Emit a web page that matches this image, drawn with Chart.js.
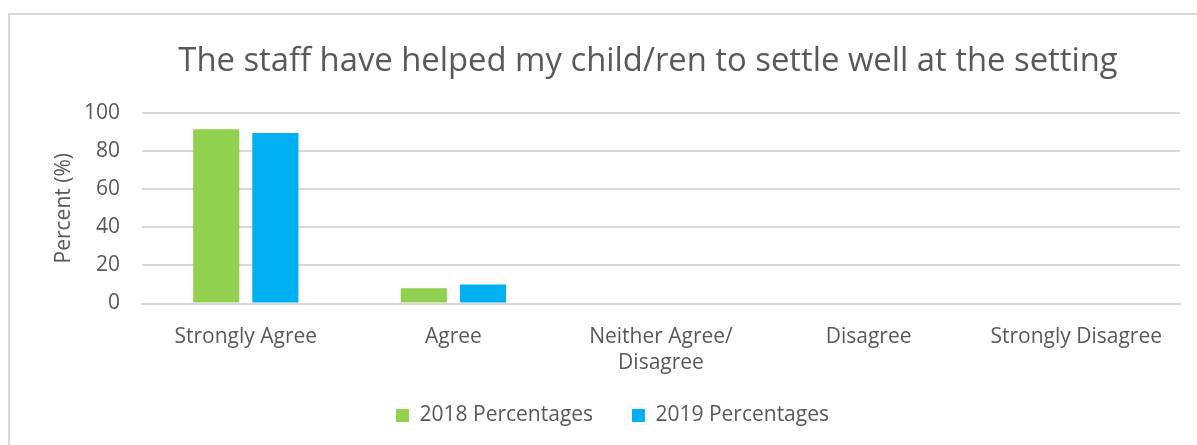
<!DOCTYPE html>
<html>
<head>
<meta charset="utf-8">
<script src="https://cdn.jsdelivr.net/npm/chart.js@4.4.1/dist/chart.umd.min.js"></script>
<style>
    html, body { margin: 0; padding: 0; background: #ffffff; }
    #frame {
        position: absolute; left: 8px; top: 13px; width: 1300px; height: 500px;
        border-top: 2px solid #d9d9d9; border-left: 2px solid #d9d9d9;
    }
    #wrap { position: absolute; left: 0; top: 0; width: 1197px; height: 445px; }
</style>
</head>
<body>
<div id="frame"></div>
<div id="wrap"><canvas id="chart"></canvas></div>
<script>
const TITLE = "The staff have helped my child/ren to settle well at the setting";
const categories = ["Strongly Agree", "Agree", ["Neither Agree/", "Disagree"], "Disagree", "Strongly Disagree"];
const seriesNames = ["2018 Percentages", "2019 Percentages"];
const series2018 = [91.5, 8, 0, 0, 0];
const series2019 = [89.5, 10, 0, 0, 0];
const yTicks = [0, 20, 40, 60, 80, 100];

const FONT = "'Open Sans', 'Liberation Sans', sans-serif";
const TEXT = "#595959";
const GRID = "#d9d9d9";

// ===== TITLE (drawn by hand so it can sit off-centre like the original) =====
const titlePlugin = {
    id: "titleText",
    afterDraw(chart) {
        const ctx = chart.ctx;
        ctx.save();
        ctx.font = "32.8px " + FONT;
        ctx.fillStyle = TEXT;
        ctx.textAlign = "center";
        ctx.textBaseline = "middle";
        ctx.fillText(TITLE, 648, 62);
        ctx.restore();
    }
};

new Chart(document.getElementById("chart"), {
    type: "bar",
    data: {
        labels: categories,
        datasets: [
            {
                label: seriesNames[0],
                data: series2018,
                backgroundColor: "#92d050",
                categoryPercentage: 0.57,
                barPercentage: 0.78
            },
            {
                label: seriesNames[1],
                data: series2019,
                backgroundColor: "#00b0f0",
                categoryPercentage: 0.57,
                barPercentage: 0.78
            }
        ]
    },
    options: {
        responsive: true,
        maintainAspectRatio: false,
        animation: false,
        layout: { padding: { top: 113, left: 45, right: 17, bottom: 9 } },
        plugins: {
            title: { display: false },
            tooltip: { enabled: false },
            legend: {
                position: "bottom",
                labels: {
                    color: TEXT,
                    font: { family: FONT, size: 21 },
                    boxWidth: 13,
                    boxHeight: 13,
                    padding: 17,
                    // extra gap after the first entry (padding is shared with the vertical spacing)
                    generateLabels: chart => Chart.defaults.plugins.legend.labels.generateLabels(chart)
                        .map((item, i) => ({ ...item, text: i === 0 ? item.text + "\u00a0\u00a0\u00a0\u00a0" : item.text }))
                }
            }
        },
        scales: {
            x: {
                grid: { display: false },
                border: { display: true, color: GRID, width: 2 },
                ticks: {
                    color: TEXT,
                    font: { family: FONT, size: 21, lineHeight: 1.25 },
                    maxRotation: 0,
                    padding: 12
                }
            },
            y: {
                min: 0,
                max: 100,
                afterBuildTicks: axis => { axis.ticks = yTicks.map(v => ({ value: v })); },
                afterFit: axis => { axis.width = 97; },
                grid: { color: GRID, lineWidth: 2, drawTicks: false },
                border: { display: false },
                ticks: {
                    color: TEXT,
                    font: { family: FONT, size: 21 },
                    padding: 22
                },
                title: {
                    display: true,
                    text: "Percent (%)",
                    color: TEXT,
                    font: { family: FONT, size: 21 },
                    padding: { top: 6, bottom: 0 }
                }
            }
        }
    },
    plugins: [titlePlugin]
});
</script>
</body>
</html>
